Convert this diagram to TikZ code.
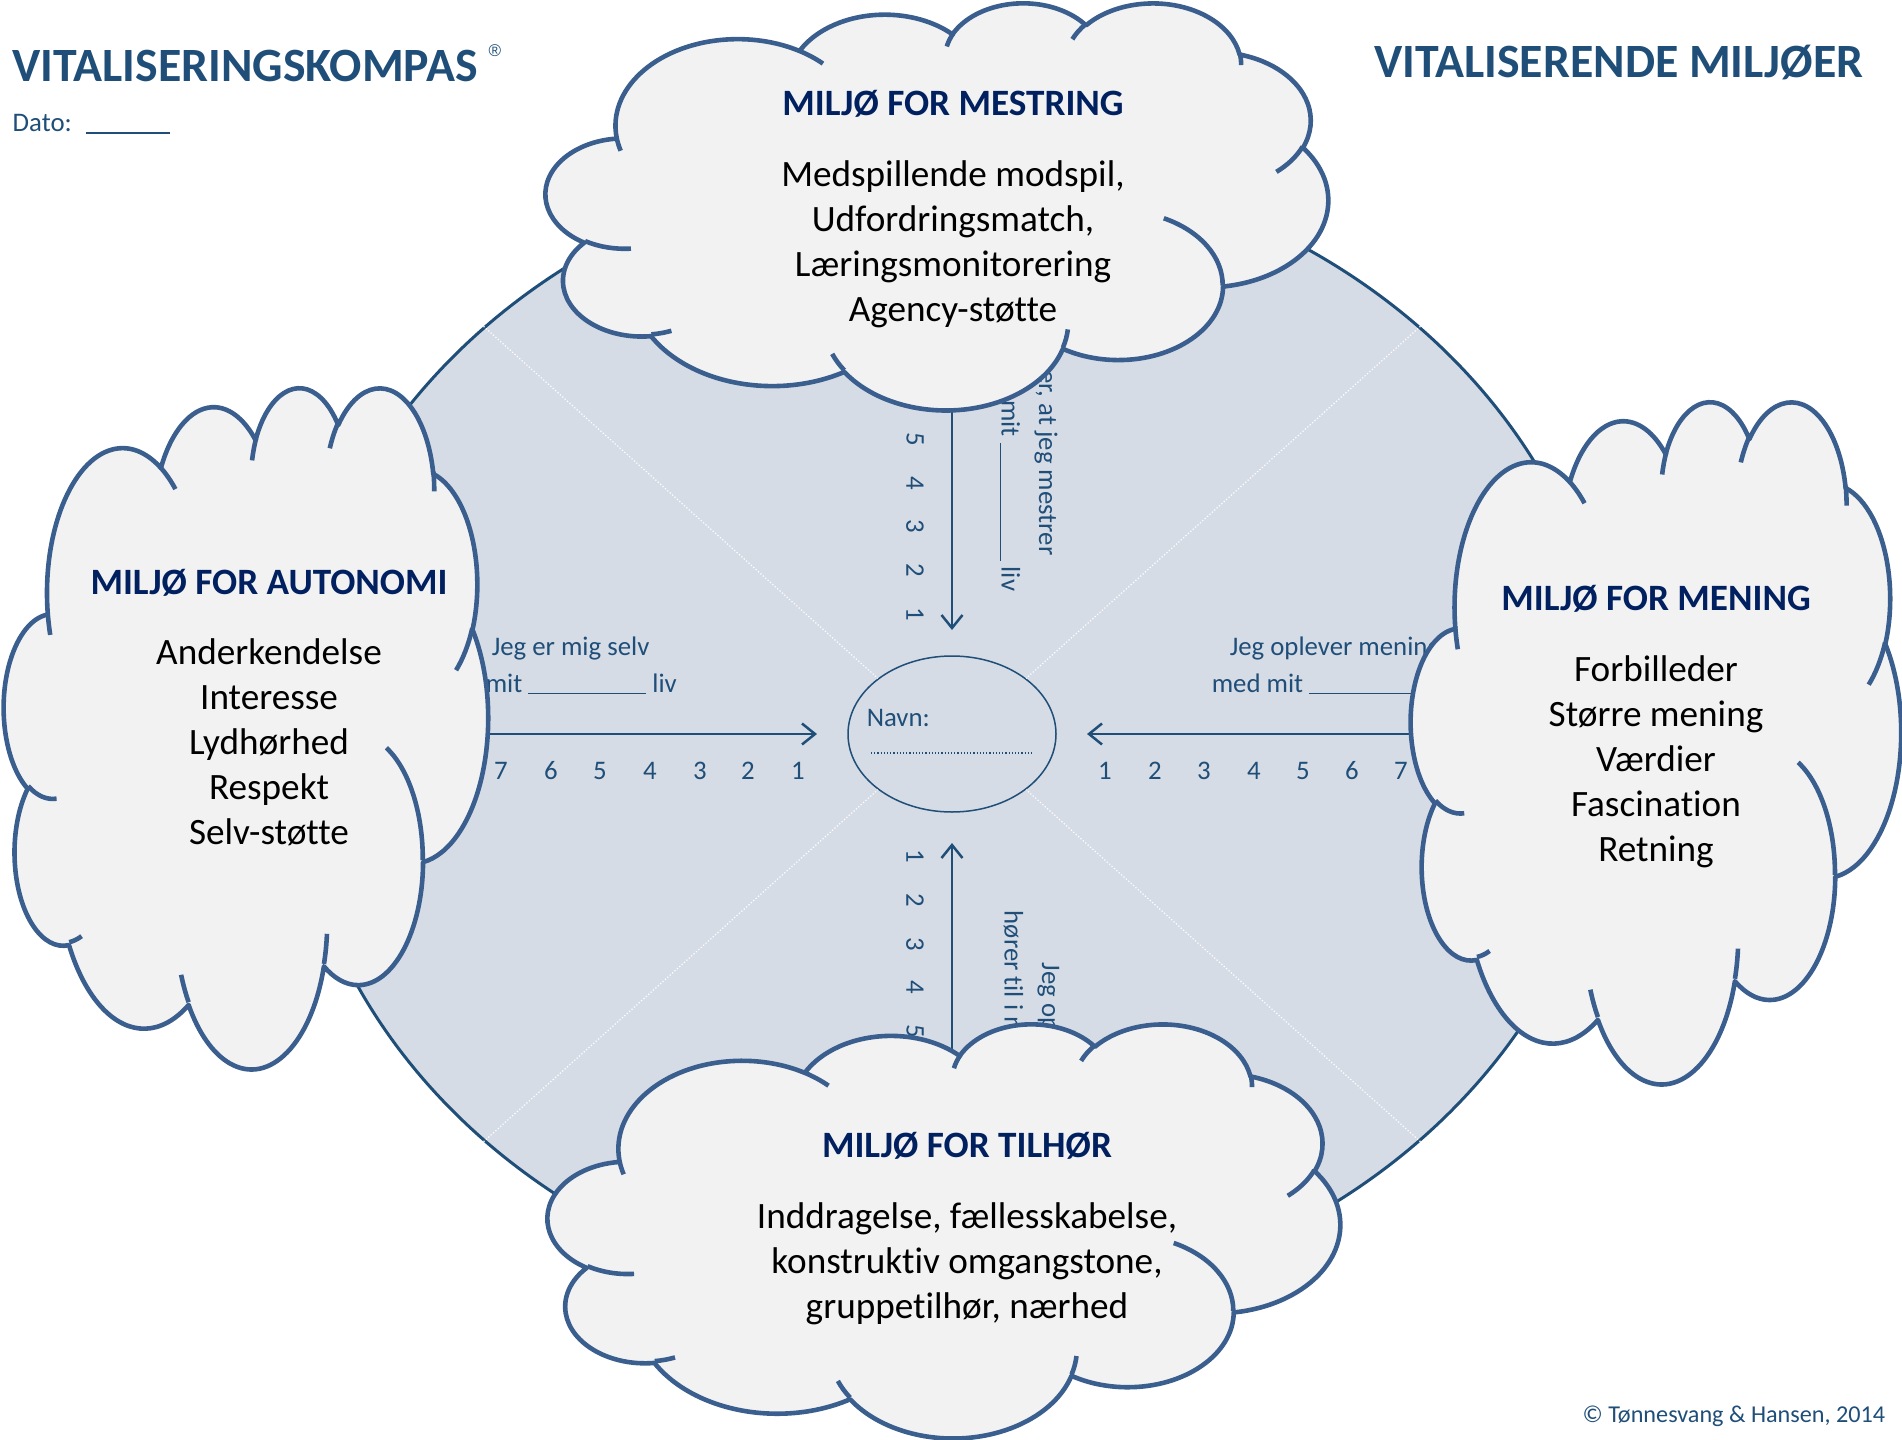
\documentclass[tikz,border=0pt]{standalone}
\usepackage{fontspec}
\setmainfont{Carlito}[Ligatures=NoCommon]
\newfontfamily\regfont{Liberation Sans}
\usetikzlibrary{shapes.geometric}

\definecolor{kompasblaa}{HTML}{1F4E79}
\definecolor{kompasfyld}{HTML}{D6DCE5}
\definecolor{skyrand}{HTML}{3A5F8F}
\definecolor{skyfyld}{HTML}{F2F2F2}
\definecolor{titelblaa}{HTML}{002060}

\tikzset{every picture/.style={line width=0.75pt}}
\tikzset{
  ooarc/.style n args={4}{insert path={%
    \pgfextra{%
      \pgfmathparse{atan2((#1)*sin(#3),(#2)*cos(#3))}\xdef\arcta{\pgfmathresult}%
      \pgfmathparse{atan2((#1)*sin((#3)+(#4)),(#2)*cos((#3)+(#4)))}\xdef\arctb{\pgfmathresult}%
      \pgfmathparse{\arctb<\arcta ? \arctb+360 : \arctb}\xdef\arctb{\pgfmathresult}%
    }%
    arc[x radius=#1, y radius=#2, start angle=\arcta, end angle=\arctb]}},
  skykrop/.style={fill=skyfyld, draw=skyrand, line width=2.3pt, line join=round},
  skyfold/.style={draw=skyrand, line width=2.3pt, line cap=butt},
  kompas/.style={ellipse, draw=kompasblaa, fill=kompasfyld, line width=1.5pt, minimum width=661pt, minimum height=575pt, inner sep=0pt},
  navnring/.style={ellipse, draw=kompasblaa, line width=0.75pt, minimum width=104pt, minimum height=78pt, inner sep=0pt},
  diagonal/.style={white, densely dotted, line width=0.6pt},
  pil/.style={draw=kompasblaa, line width=1.25pt},
  hoved/.style={font=\fontsize{23.9}{28}\selectfont\bfseries, text=kompasblaa, inner sep=0pt},
  skytitel/.style={font=\fontsize{18.6}{22.5}\selectfont\bfseries, text=titelblaa, inner sep=0pt},
  skytekst/.style={font=\fontsize{18.6}{22.5}\selectfont, align=center, inner sep=0pt},
  lille/.style={font=\fontsize{13.4}{16}\selectfont, text=kompasblaa, inner sep=0pt},
}

\newcommand\understreg{\rule[-1pt]{59pt}{0.6pt}}

% sky: x, y, bredde, hoejde
\newcommand\skyform[4]{%
  \begin{scope}[shift={(#1,#2)},xscale=#3/43.2,yscale=#4/43.2]
    \path [skykrop] (3.900,14.370)
      [ooarc={6.753}{9.190}{-190.4875}{123.7805}]
      [ooarc={5.333}{7.267}{-144.1024}{89.9452}]
      [ooarc={4.365}{5.945}{-145.8079}{99.7230}]
      [ooarc={4.857}{6.595}{-130.9861}{117.2417}]
      [ooarc={5.333}{7.273}{-78.7089}{109.0269}]
      [ooarc={6.775}{9.220}{-46.2673}{130.2690}]
      [ooarc={5.785}{7.867}{0.6250}{114.0333}]
      [ooarc={6.752}{9.215}{22.4516}{115.1726}]
      [ooarc={7.720}{10.543}{66.2426}{75.7110}]
      [ooarc={4.360}{5.918}{-274.9421}{146.7356}]
      [ooarc={4.345}{5.945}{-246.8285}{152.5189}]
      -- cycle;
    \path [skyfold]
      (4.693,26.177) [ooarc={4.345}{5.945}{86.742}{26.4295}]
      (6.928,34.899) [ooarc={4.360}{5.918}{73.6105}{11.4475}]
      (16.478,39.090) [ooarc={6.752}{9.215}{137.6242}{14.0811}]
      (28.827,34.751) [ooarc={6.752}{9.215}{6.4533}{15.9984}]
      (34.129,22.954) [ooarc={5.785}{7.867}{-70.2924}{70.9174}]
      (41.798,15.354) [ooarc={5.333}{7.273}{30.3180}{27.7515}]
      (38.324,5.426) [ooarc={4.857}{6.595}{-13.7443}{14.8589}]
      (29.078,3.952) [ooarc={4.857}{6.595}{-149.1815}{18.1954}]
      (22.141,4.720) [ooarc={4.365}{5.945}{-163.4943}{17.6864}]
      (14.000,5.192) [ooarc={6.753}{9.190}{-66.7070}{12.3194}]
      (4.127,15.789) [ooarc={6.753}{9.190}{157.6544}{11.8582}];
  \end{scope}}

\begin{document}
\begin{tikzpicture}[x=0.5pt,y=0.5pt,yscale=-1,xscale=1]
\useasboundingbox (0,0) rectangle (1902,1440);

%Shape: Ellipse [kompas]
\node [kompas] (kompas) at (952,734) {};
%Shape: Ellipse [navn]
\node [navnring] (navn) at (952,734) {};

%Straight Lines [diagonaler]
\draw [diagonal] (kompas.north west) -- (navn.north west);
\draw [diagonal] (kompas.north east) -- (navn.north east);
\draw [diagonal] (kompas.south west) -- (navn.south west);
\draw [diagonal] (kompas.south east) -- (navn.south east);

% Text Node
\node [lille, anchor=west] (navntekst) at (866,718) {Navn:};
\coordinate (navnlinjeA) at (871,753);
\coordinate (navnlinjeB) at (1032,753);
\draw [kompasblaa, densely dotted, line width=0.6pt] (navnlinjeA) -- (navnlinjeB);

%Straight Lines [mestring]
\coordinate (pilNstart) at (952,390);
\coordinate (pilNslut) at (952,628);
\draw [pil] (pilNstart) -- (pilNslut);
\draw [pil, shift={(pilNslut)}, rotate=270] (13,-10.5) -- (0,0) -- (13,10.5);

%Straight Lines [tilhoer]
\coordinate (pilSstart) at (952,1080);
\coordinate (pilSslut) at (952,845);
\draw [pil] (pilSstart) -- (pilSslut);
\draw [pil, shift={(pilSslut)}, rotate=90] (13,-10.5) -- (0,0) -- (13,10.5);

%Straight Lines [autonomi]
\coordinate (pilVstart) at (470,734);
\coordinate (pilVslut) at (815,734);
\draw [pil] (pilVstart) -- (pilVslut);
\draw [pil, shift={(pilVslut)}, rotate=180] (13,-10.5) -- (0,0) -- (13,10.5);

%Straight Lines [mening]
\coordinate (pilHstart) at (1430,734);
\coordinate (pilHslut) at (1089,734);
\draw [pil] (pilHstart) -- (pilHslut);
\draw [pil, shift={(pilHslut)}, rotate=0] (13,-10.5) -- (0,0) -- (13,10.5);

% Text Node
\node [lille] (v7) at (501,771) {7};
\node [lille] (v6) at (551,771) {6};
\node [lille] (v5) at (600,771) {5};
\node [lille] (v4) at (650,771) {4};
\node [lille] (v3) at (700,771) {3};
\node [lille] (v2) at (748,771) {2};
\node [lille] (v1) at (798,771) {1};
% Text Node
\node [lille] (h1) at (1105,771) {1};
\node [lille] (h2) at (1155,771) {2};
\node [lille] (h3) at (1204,771) {3};
\node [lille] (h4) at (1254,771) {4};
\node [lille] (h5) at (1303,771) {5};
\node [lille] (h6) at (1352,771) {6};
\node [lille] (h7) at (1401,771) {7};
% Text Node
\node [lille, rotate=-90] (o5) at (915,439) {5};
\node [lille, rotate=-90] (o4) at (915,483) {4};
\node [lille, rotate=-90] (o3) at (915,526) {3};
\node [lille, rotate=-90] (o2) at (915,570) {2};
\node [lille, rotate=-90] (o1) at (915,614) {1};
% Text Node
\node [lille, rotate=-90] (n1) at (915,856) {1};
\node [lille, rotate=-90] (n2) at (915,900) {2};
\node [lille, rotate=-90] (n3) at (915,944) {3};
\node [lille, rotate=-90] (n4) at (915,987) {4};
\node [lille, rotate=-90] (n5) at (915,1031) {5};

% Text Node
\node [lille, anchor=west] (selv1) at (491,648) {Jeg er mig selv};
\node [lille, anchor=west] (selv2) at (485,684) {mit \understreg{} liv};
% Text Node
\node [lille, anchor=west] (mening1) at (1229,648) {Jeg oplever mening};
\node [lille, anchor=west] (mening2) at (1211,684) {med mit \understreg{} liv};
% Text Node
\node [lille, rotate=-90, anchor=east] (mestrer1) at (1046,556) {Jeg oplever, at jeg mestrer};
\node [lille, rotate=-90, anchor=east] (mestrer2) at (1010,592) {mit \understreg{} liv};
% Text Node
\node [lille, rotate=-90, anchor=west] (tilhoer1) at (1049,962) {Jeg oplever, at jeg};
\node [lille, rotate=-90, anchor=west] (tilhoer2) at (1013,910) {hører til i mit \understreg{} liv};

%Shape: Cloud [mestring]
\skyform{546}{2}{782}{407}
\node [skytitel] (mestring) at (953,104) {MILJØ FOR MESTRING};
\node [skytekst] (mestringtekst) at (953,244) {Medspillende modspil,\\Udfordringsmatch,\\Læringsmonitorering\\Agency-støtte};

%Shape: Cloud [autonomi]
\skyform{4}{386}{484}{681}
\node [skytitel] (autonomi) at (269,583) {MILJØ FOR AUTONOMI};
\node [skytekst] (autonomitekst) at (269,742) {Anderkendelse\\Interesse\\Lydhørhed\\Respekt\\Selv-støtte};

%Shape: Cloud [mening]
\skyform{1411}{400}{490}{682}
\node [skytitel] (mening) at (1656,599) {MILJØ FOR MENING};
\node [skytekst] (meningtekst) at (1656,762) {Forbilleder\\Større mening\\Værdier\\Fascination\\Retning};

%Shape: Cloud [tilhoer]
\skyform{548}{1023}{792}{414}
\node [skytitel] (tilhoer) at (967,1146) {MILJØ FOR TILHØR};
\node [skytekst] (tilhoertekst) at (967,1264) {Inddragelse, fællesskabelse,\\konstruktiv omgangstone,\\gruppetilhør, nærhed};

% Text Node
\node [hoved, anchor=base west] (kompastitel) at (12,81) {VITALISERINGSKOMPAS};
\node [lille, font=\regfont\fontsize{8.5}{10}\selectfont] (reg) at (495,51) {®};
\node [hoved, anchor=base east] (miljoetitel) at (1864,77) {VITALISERENDE MILJØER};
% Text Node
\node [lille, anchor=base west] (dato) at (12,131) {Dato:};
\coordinate (datoA) at (86,133);
\coordinate (datoB) at (170,133);
\draw [kompasblaa, line width=0.6pt] (datoA) -- (datoB);
% Text Node
\node [lille, font=\fontsize{12.1}{14}\selectfont, anchor=base east] (copy) at (1886,1422) {© Tønnesvang \& Hansen, 2014};

\end{tikzpicture}
\end{document}
